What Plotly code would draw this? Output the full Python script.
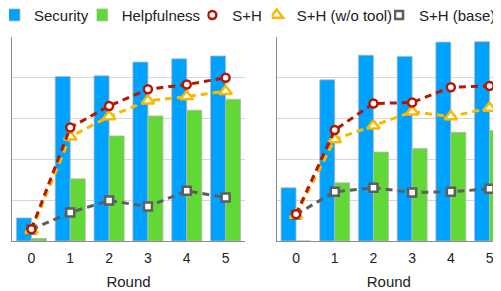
import plotly.graph_objects as go

rounds = [0, 1, 2, 3, 4, 5]
round_labels = ["0", "1", "2", "3", "4", "5"]

# Left panel
left_security = [11.3, 80.6, 81.0, 87.7, 89.3, 90.7]
left_helpful = [1.3, 30.5, 51.5, 61.3, 64.1, 69.5]
left_sh = [5.8, 55.6, 66.2, 74.4, 76.7, 80.0]
left_sh_notool = [5.3, 51.1, 61.0, 68.7, 70.8, 73.4]
left_sh_base = [5.6, 14.0, 19.8, 16.9, 24.6, 21.3]

# Right panel
right_security = [26.1, 79.0, 91.1, 90.5, 97.5, 97.7]
right_helpful = [0.0, 28.5, 43.6, 45.4, 53.3, 54.1]
right_sh = [13.1, 54.4, 67.4, 67.9, 75.4, 76.0]
right_sh_notool = [12.8, 49.8, 56.5, 63.4, 61.0, 65.2]
right_sh_base = [13.0, 24.1, 26.1, 23.8, 24.1, 25.6]

BLUE = "#00A2FF"
GREEN = "#61D836"
RED = "#B51700"
YELLOW = "#F8BA00"
GREY = "#5E5E5E"
FONT = "Liberation Sans, Arial, Helvetica, sans-serif"
DASH = "7px,5px"

line_styles = {
    "S+H": dict(color=RED, symbol="circle", size=8, lg="legend3"),
    "S+H (w/o tool)": dict(color=YELLOW, symbol="triangle-up", size=11, lg="legend4"),
    "S+H (base)": dict(color=GREY, symbol="square", size=8, lg="legend5"),
}

fig = go.Figure()

panels = [
    ("x", "y", left_security, left_helpful, left_sh, left_sh_notool, left_sh_base, True),
    ("x2", "y2", right_security, right_helpful, right_sh, right_sh_notool, right_sh_base, False),
]

for xa, ya, sec, helpf, sh, shn, shb, show in panels:
    fig.add_trace(go.Bar(x=rounds, y=sec, name="Security", xaxis=xa, yaxis=ya,
                         marker=dict(color=BLUE, line=dict(color="#B8B8B8", width=0.8)),
                         legend="legend", showlegend=show))
    fig.add_trace(go.Bar(x=rounds, y=helpf, name="Helpfulness", xaxis=xa, yaxis=ya,
                         marker=dict(color=GREEN, line=dict(color="#B8B8B8", width=0.8)),
                         legend="legend2", showlegend=show))
    for name, vals in [("S+H (base)", shb), ("S+H (w/o tool)", shn), ("S+H", sh)]:
        st = line_styles[name]
        fig.add_trace(go.Scatter(x=rounds, y=vals, name=name, xaxis=xa, yaxis=ya,
                                 mode="lines+markers",
                                 line=dict(color=st["color"], width=3, dash=DASH),
                                 marker=dict(symbol=st["symbol"], size=st["size"], color="white",
                                             line=dict(color=st["color"], width=2.5)),
                                 showlegend=False))

# legend-only entries (marker symbols) for the line series
for name in ["S+H", "S+H (w/o tool)", "S+H (base)"]:
    st = line_styles[name]
    fig.add_trace(go.Scatter(x=[None], y=[None], name=name, mode="markers",
                             marker=dict(symbol=st["symbol"], size=st["size"], color="white",
                                         line=dict(color=st["color"], width=2.5)),
                             legend=st["lg"], showlegend=True))

axis_common = dict(
    tickmode="array", tickvals=rounds, ticktext=round_labels,
    showgrid=False, showline=True, linecolor="#8C8C8C", linewidth=1,
    ticks="", ticklabelstandoff=4,
    tickfont=dict(size=14, color="#222222", family=FONT),
    title=dict(text="Round", font=dict(size=15, color="#222222", family=FONT), standoff=11),
    zeroline=False, fixedrange=True,
)
yaxis_common = dict(
    range=[0, 100], dtick=20, showgrid=True, gridcolor="#D6D6D6", gridwidth=1,
    showline=True, linecolor="#8C8C8C", linewidth=1, showticklabels=False,
    ticks="", zeroline=False, fixedrange=True,
)

LEG_Y = 1.107
def leg(x):
    return dict(orientation="h", x=x, xanchor="left", y=LEG_Y, yanchor="middle",
                font=dict(size=15, color="#222222", family=FONT),
                bgcolor="rgba(0,0,0,0)", itemwidth=30, indentation=-15)

fig.update_layout(
    width=493, height=283,
    margin=dict(l=4, r=0, t=29, b=50, autoexpand=False),
    paper_bgcolor="white", plot_bgcolor="white",
    barmode="group", bargap=0.225, bargroupgap=0,
    font=dict(family=FONT, size=14, color="#222222"),
    xaxis=dict(domain=[0, 0.4765], range=[-0.5, 5.5], anchor="y", **axis_common),
    xaxis2=dict(domain=[0.5413, 1], range=[-0.5, 5.296], anchor="y2", **axis_common),
    yaxis=dict(domain=[0, 1], anchor="x", **yaxis_common),
    yaxis2=dict(domain=[0, 1], anchor="x2", **yaxis_common),
    legend=leg(-0.0062),
    legend2=leg(0.1732),
    legend3=leg(0.3994),
    legend4=leg(0.5310),
    legend5=leg(0.7812),
    showlegend=True,
)

fig.write_html("out.html")
